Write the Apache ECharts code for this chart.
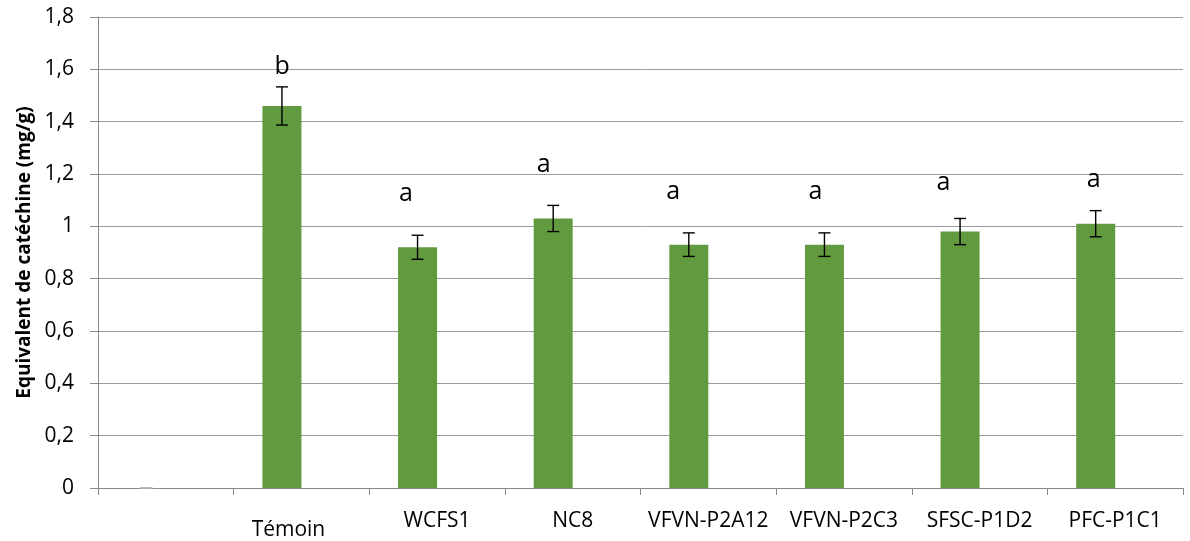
<!DOCTYPE html>
<html>
<head>
<meta charset="utf-8">
<script src="https://cdn.jsdelivr.net/npm/echarts@6/dist/echarts.min.js"></script>
<style>
html,body{margin:0;padding:0;background:#fff;}
#chart{width:1190px;height:541px;}
</style>
</head>
<body>
<div id="chart"></div>
<script>
// ---- data ----
const categories = ['', 'Témoin', 'WCFS1', 'NC8', 'VFVN-P2A12', 'VFVN-P2C3', 'SFSC-P1D2', 'PFC-P1C1'];
const means = [0, 1.46, 0.92, 1.03, 0.93, 0.93, 0.98, 1.01];
const errors = [0, 0.073, 0.046, 0.05, 0.045, 0.045, 0.05, 0.05];
const letters = ['', 'b', 'a', 'a', 'a', 'a', 'a', 'a'];
const letterLevels = [null, 1.61, 1.124, 1.234, 1.131, 1.131, 1.166, 1.177];
const yAxisName = 'Equivalent de catéchine (mg/g)';
const yMin = 0, yMax = 1.8, yStep = 0.2;

// ---- style ----
const FONT = '"Open Sans", "Noto Sans", sans-serif';
const BAR_W = 39;
const BAR_COLOR = '#629b3f';
const letterDx = [0, -19.3, -31, -29, -35, -28.5, -36, -21.5];

const chart = echarts.init(document.getElementById('chart'));

const errData = means.map((m, i) => [i, m, errors[i]]);
const letterData = letters.map((l, i) => [i, letterLevels[i] == null ? 0 : letterLevels[i], l]);

chart.setOption({
  animation: false,
  backgroundColor: '#fff',
  grid: { left: 98, right: 7, top: 17, bottom: 53, containLabel: false, outerBoundsMode: 'none' },
  xAxis: {
    type: 'category',
    data: categories,
    boundaryGap: true,
    axisLine: { show: true, lineStyle: { color: '#8a8a8a', width: 1 } },
    axisTick: { show: true, length: 7, lineStyle: { color: '#8a8a8a' } },
    axisLabel: {
      interval: 0,
      margin: 23,
      color: '#000',
      fontFamily: FONT,
      fontSize: 21,
      formatter: function (v) { return v === 'Témoin' ? '{t|' + v + '}' : v; },
      rich: { t: { fontFamily: FONT, fontSize: 21, color: '#000', padding: [9, 26, 0, 0] } }
    },
    splitLine: { show: false }
  },
  yAxis: {
    type: 'value',
    min: yMin, max: yMax, interval: yStep,
    name: yAxisName,
    nameLocation: 'middle',
    nameGap: 62,
    nameRotate: 90,
    nameTextStyle: { fontFamily: FONT, fontSize: 19, fontWeight: 'bold', color: '#000' },
    axisLine: { show: true, lineStyle: { color: '#8a8a8a', width: 1 } },
    axisTick: { show: true, length: 8, lineStyle: { color: '#8a8a8a' } },
    axisLabel: {
      margin: 24,
      color: '#000',
      fontFamily: FONT,
      fontSize: 21,
      formatter: function (v) { return String(Math.round(v * 10) / 10).replace('.', ','); }
    },
    splitLine: { show: true, lineStyle: { color: '#9a9a9a', width: 1 } }
  },
  series: [
    {
      type: 'bar',
      data: means,
      barWidth: BAR_W,
      barGap: '0%',
      itemStyle: { color: BAR_COLOR },
      z: 2
    },
    {
      type: 'bar',
      data: means.map(() => null),
      barWidth: BAR_W,
      barGap: '0%',
      z: 2
    },
    {
      type: 'custom',
      data: errData,
      z: 5,
      renderItem: function (params, api) {
        const i = api.value(0), m = api.value(1), e = api.value(2);
        const c = api.coord([i, m]);
        const x = c[0] - BAR_W / 2;
        const top = api.coord([i, m + e])[1];
        const bot = api.coord([i, m - e])[1];
        const cap = 6;
        const st = { stroke: e === 0 ? '#b0b0b0' : '#000', lineWidth: 1.4 };
        return {
          type: 'group',
          children: [
            { type: 'line', shape: { x1: x, y1: top, x2: x, y2: bot }, style: st },
            { type: 'line', shape: { x1: x - cap, y1: top, x2: x + cap, y2: top }, style: st },
            { type: 'line', shape: { x1: x - cap, y1: bot, x2: x + cap, y2: bot }, style: st }
          ]
        };
      }
    },
    {
      type: 'custom',
      data: letterData,
      z: 6,
      renderItem: function (params, api) {
        const i = api.value(0);
        const txt = letters[i];
        if (!txt) return null;
        const c = api.coord([i, api.value(1)]);
        return {
          type: 'text',
          x: c[0] + letterDx[i],
          y: c[1],
          style: {
            text: txt,
            font: '25px ' + FONT,
            fill: '#000',
            align: 'center',
            verticalAlign: 'middle'
          }
        };
      }
    }
  ]
});
</script>
</body>
</html>
